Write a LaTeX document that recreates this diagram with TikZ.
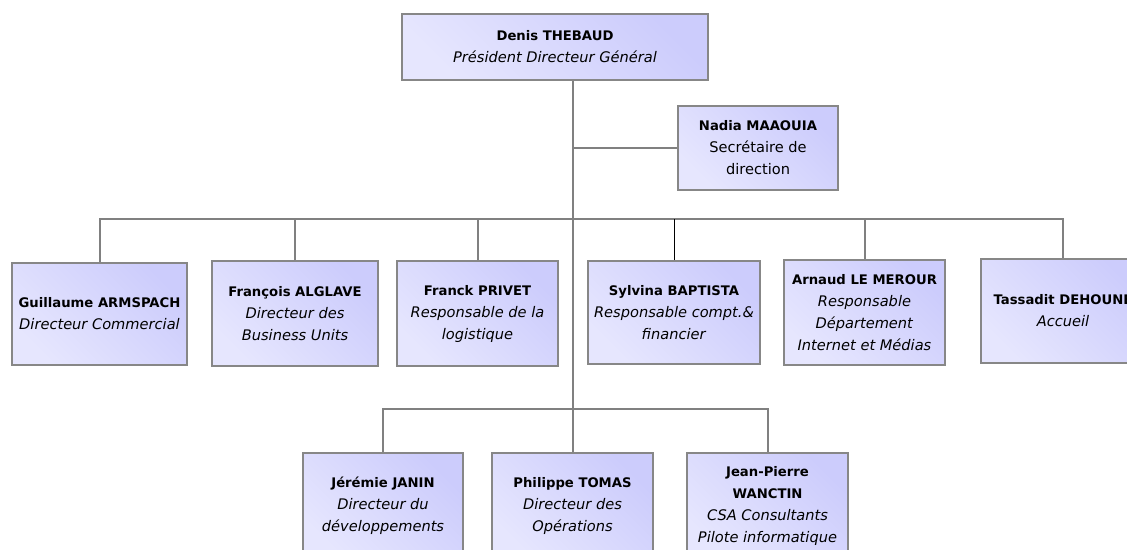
\documentclass[tikz,border=0pt]{standalone}
\usepackage{fontspec}
\setmainfont{DejaVu Sans}
\definecolor{boxlight}{RGB}{230,230,254}
\definecolor{boxdark}{RGB}{204,204,252}
\definecolor{boxline}{RGB}{135,135,135}
\definecolor{connline}{RGB}{128,128,128}
\newcommand\pname[1]{{\fontsize{13.2}{22}\selectfont\bfseries #1}}
\newcommand\prole[1]{\textit{#1}}
\begin{document}
\begin{tikzpicture}[x=1pt,y=-1pt,
  box/.style={draw=boxline, line width=1.6pt, rectangle, inner sep=0pt,
    top color=boxdark, bottom color=boxlight, shading angle=-45,
    align=center, font=\fontsize{14.6}{22}\selectfont},
  conn/.style={draw=connline, line width=2pt},
  thinconn/.style={draw=black, line width=1pt}]
\clip (0,0) rectangle (1127,549);
\fill[white] (0,0) rectangle (1127,549);

\node[box, minimum width=306, minimum height=66] (top) at (555,47)
  {\pname{Denis THEBAUD}\\\prole{Président Directeur Général}};
\node[box, minimum width=160, minimum height=84] (n) at (758,148)
  {\pname{Nadia MAAOUIA}\\Secrétaire de\\direction};

\node[box, minimum width=175, minimum height=102] (g) at (99.5,314)
  {\pname{Guillaume ARMSPACH}\\\prole{Directeur Commercial}};
\node[box, minimum width=166, minimum height=105] (f) at (295,313.5)
  {\pname{François ALGLAVE}\\\prole{Directeur des}\\\prole{Business Units}};
\node[box, minimum width=161, minimum height=105] (fr) at (477.5,313.5)
  {\pname{Franck PRIVET}\\\prole{Responsable de la}\\\prole{logistique}};
\node[box, minimum width=172, minimum height=103] (s) at (674,312.5)
  {\pname{Sylvina BAPTISTA}\\\prole{Responsable compt.\&}\\\prole{financier}};
\node[box, minimum width=161, minimum height=105] (a) at (864.5,312.5)
  {\pname{Arnaud LE MEROUR}\\\prole{Responsable}\\\prole{Département}\\\prole{Internet et Médias}};
\node[box, minimum width=164, minimum height=104] (t) at (1063,311)
  {\pname{Tassadit DEHOUNE}\\\prole{Accueil}};

\node[box, minimum width=160, minimum height=106] (j) at (383,506)
  {\pname{Jérémie JANIN}\\\prole{Directeur du}\\\prole{développements}};
\node[box, minimum width=161, minimum height=106] (p) at (572.5,506)
  {\pname{Philippe TOMAS}\\\prole{Directeur des}\\\prole{Opérations}};
\node[box, minimum width=161, minimum height=106] (jp) at (767.5,506)
  {\pname{Jean-Pierre}\\\pname{WANCTIN}\\\prole{CSA Consultants}\\\prole{Pilote informatique}};

\coordinate (bar) at (572.5,219);
\coordinate (bbar) at (572.5,409);

\draw[conn] (p.north) -- (p.north |- top.south);
\draw[conn] (n.west) -- (n.west -| p.north);
\draw[conn] (g.north) |- (bar) -| (t.north);
\draw[conn] (f.north) -- (f.north |- bar);
\draw[conn] (fr.north) -- (fr.north |- bar);
\draw[thinconn] (s.north) -- (s.north |- bar);
\draw[conn] (a.north) -- (a.north |- bar);
\draw[conn] (j.north) |- (bbar) -| (jp.north);
\end{tikzpicture}
\end{document}
